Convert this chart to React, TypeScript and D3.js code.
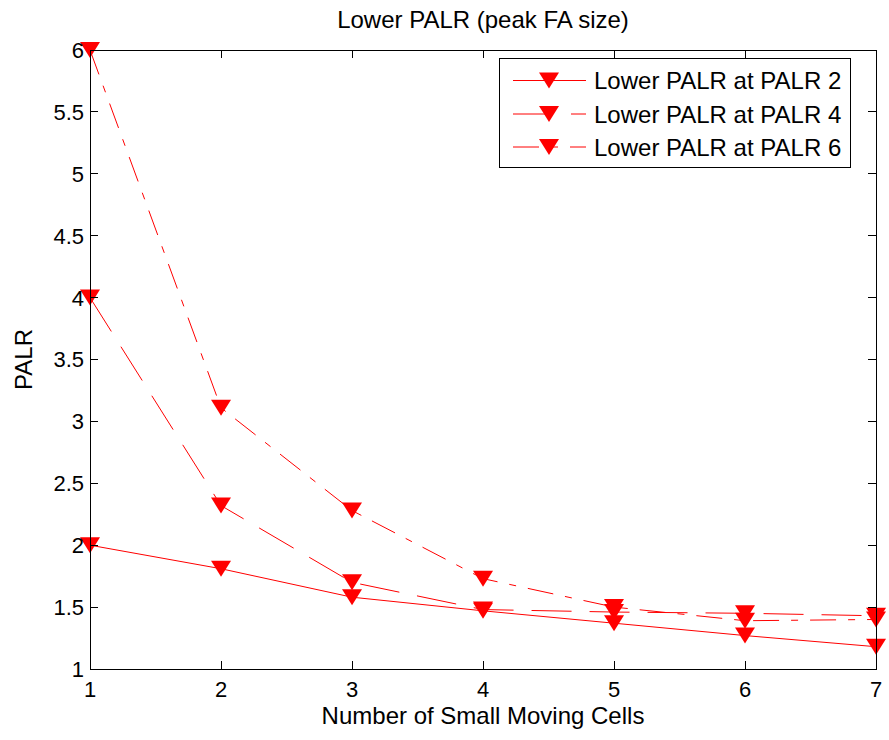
import React from "react";
import * as d3 from "d3";

// chart data
const cells = [1, 2, 3, 4, 5, 6, 7];
const palr2 = [2.0, 1.81, 1.58, 1.47, 1.37, 1.27, 1.18];
const palr4 = [4.0, 2.32, 1.7, 1.48, 1.46, 1.45, 1.43];
const palr6 = [6.0, 3.11, 2.28, 1.73, 1.5, 1.39, 1.4];
const seriesNames = ["Lower PALR at PALR 2", "Lower PALR at PALR 4", "Lower PALR at PALR 6"];
const yTicks = [1, 1.5, 2, 2.5, 3, 3.5, 4, 4.5, 5, 5.5, 6];
const xTicks = [1, 2, 3, 4, 5, 6, 7];

const width = 889;
const height = 740;
const margin = { left: 90, right: 13, top: 50, bottom: 71 };
const font = "'Liberation Sans', Arial, Helvetica, sans-serif";
const red = "#ff0000";
const dashes = ["none", "40,18", "26,12,7,12"];

// downward triangle marker centred on the point
const tri = "M-10,-8L10,-8L0,8Z";

const App = () => {
  const x = d3
    .scaleLinear()
    .domain([1, 7])
    .range([margin.left, width - margin.right]);
  const y = d3
    .scaleLinear()
    .domain([1, 6])
    .range([height - margin.bottom, margin.top]);

  const line = d3
    .line<number>()
    .x((d, i) => x(cells[i]))
    .y((d) => y(d));

  const allSeries = [palr2, palr4, palr6];
  const x0 = margin.left;
  const x1 = width - margin.right;
  const y0 = margin.top;
  const y1 = height - margin.bottom;
  const tick = 8;

  const legend = { left: 499, top: 58, w: 351, h: 109 };
  const rowY = [80.5, 114, 147];

  return (
    <svg width={width} height={height} style={{ display: "block", position: "absolute", left: 0, top: 0 }}>
      <rect x={0} y={0} width={width} height={height} fill="#fff" />

      {/* series */}
      {allSeries.map((s, k) => (
        <g key={k}>
          <path d={line(s) || ""} fill="none" stroke={red} strokeWidth={1} strokeDasharray={dashes[k]} />
          {s.map((v, i) => (
            <path key={i} d={tri} transform={`translate(${x(cells[i])},${y(v)})`} fill={red} />
          ))}
        </g>
      ))}

      {/* box + ticks */}
      <g stroke="#000" strokeWidth={1} fill="none" shapeRendering="crispEdges">
        <rect x={x0} y={y0} width={x1 - x0} height={y1 - y0} />
        {xTicks.map((t) => (
          <g key={t}>
            <line x1={x(t)} x2={x(t)} y1={y1} y2={y1 - tick} />
            <line x1={x(t)} x2={x(t)} y1={y0} y2={y0 + tick} />
          </g>
        ))}
        {yTicks.map((t) => (
          <g key={t}>
            <line x1={x0} x2={x0 + tick} y1={y(t)} y2={y(t)} />
            <line x1={x1} x2={x1 - tick} y1={y(t)} y2={y(t)} />
          </g>
        ))}
      </g>

      <g fontFamily={font} fill="#000">
        {xTicks.map((t) => (
          <text key={t} x={x(t)} y={697} textAnchor="middle" fontSize={22}>
            {t}
          </text>
        ))}
        {yTicks.map((t) => (
          <text key={t} x={x0 - 6} y={y(t)} dy="0.36em" textAnchor="end" fontSize={22}>
            {t}
          </text>
        ))}
        <text x={(x0 + x1) / 2} y={724} textAnchor="middle" fontSize={24}>
          Number of Small Moving Cells
        </text>
        <text transform={`translate(32,${(y0 + y1) / 2}) rotate(-90)`} textAnchor="middle" fontSize={24}>
          PALR
        </text>
        <text x={(x0 + x1) / 2} y={28} textAnchor="middle" fontSize={24}>
          Lower PALR (peak FA size)
        </text>
      </g>

      {/* legend */}
      <g>
        <rect
          x={legend.left}
          y={legend.top}
          width={legend.w}
          height={legend.h}
          fill="#fff"
          stroke="#000"
          strokeWidth={1}
          shapeRendering="crispEdges"
        />
        {seriesNames.map((name, k) => (
          <g key={name}>
            <line x1={513} x2={586} y1={rowY[k]} y2={rowY[k]} stroke={red} strokeWidth={1} strokeDasharray={dashes[k]} />
            <path d={tri} transform={`translate(549,${rowY[k]})`} fill={red} />
            <text x={594} y={rowY[k]} dy="0.36em" fontFamily={font} fontSize={24} fill="#000">
              {name}
            </text>
          </g>
        ))}
      </g>
    </svg>
  );
};

export default App;
